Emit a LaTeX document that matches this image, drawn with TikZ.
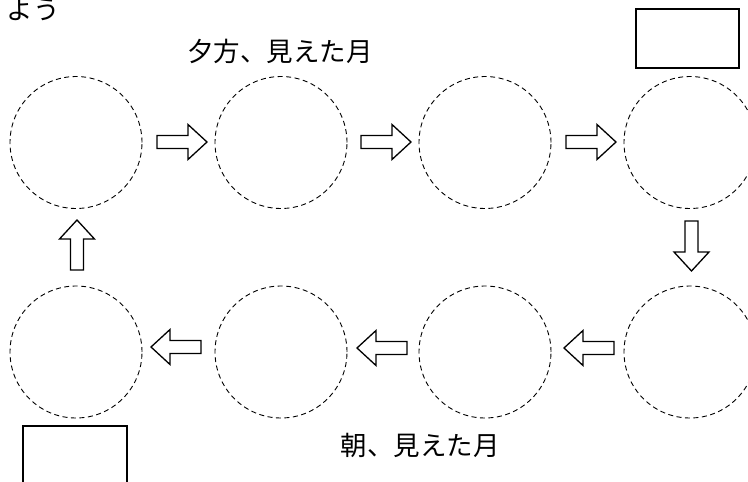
\documentclass[tikz,border=0pt]{standalone}
\usepackage{fontspec}
\newfontfamily\jpfont{Noto Sans CJK JP}
\tikzset{
  circ/.style={circle, draw, dashed, dash pattern=on 5pt off 3.5pt, line width=0.9pt, minimum size=132pt, inner sep=0pt},
  arrowline/.style={draw, line width=1.3pt, fill=white, line join=miter},
  plainbox/.style={draw, line width=1.3pt, inner sep=0pt},
  label/.style={font=\jpfont\fontsize{26.5}{30}\selectfont, inner sep=0pt},
  barrow/.pic={\path[arrowline] (0,-6.5) -- (31,-6.5) -- (31,-17.5) -- (50,0) -- (31,17.5) -- (31,6.5) -- (0,6.5) -- cycle;}
}
\begin{document}
\begin{tikzpicture}[x=1pt,y=-1pt]
\useasboundingbox (0,0) rectangle (748,482);
% circles, top row
\node[circ] (c1) at (76,142.5) {};
\node[circ] (c2) at (281,142.5) {};
\node[circ] (c3) at (485,142.5) {};
\node[circ] (c4) at (690,142.5) {};
% circles, bottom row
\node[circ] (c5) at (690,352) {};
\node[circ] (c6) at (485,352) {};
\node[circ] (c7) at (281,352) {};
\node[circ] (c8) at (76,352) {};
% arrows
\pic at (157,142) {barrow};
\pic at (361,142) {barrow};
\pic at (566,142) {barrow};
\pic[rotate=-90] at (691.5,221) {barrow};
\pic[rotate=180] at (614,348) {barrow};
\pic[rotate=180] at (407,348) {barrow};
\pic[rotate=180] at (201,347) {barrow};
\pic[rotate=90] at (77,270) {barrow};
% boxes
\node[plainbox, minimum width=103pt, minimum height=59pt] (b1) at (687.5,38.5) {};
\node[plainbox, minimum width=104pt, minimum height=64pt] (b2) at (75,458) {};
% texts
\node[label] (t0) at (33,10) {よう};
\node[label] (t1) at (280,51) {夕方、見えた月};
\node[label] (t2) at (420,445) {朝、見えた月};
\end{tikzpicture}
\end{document}
